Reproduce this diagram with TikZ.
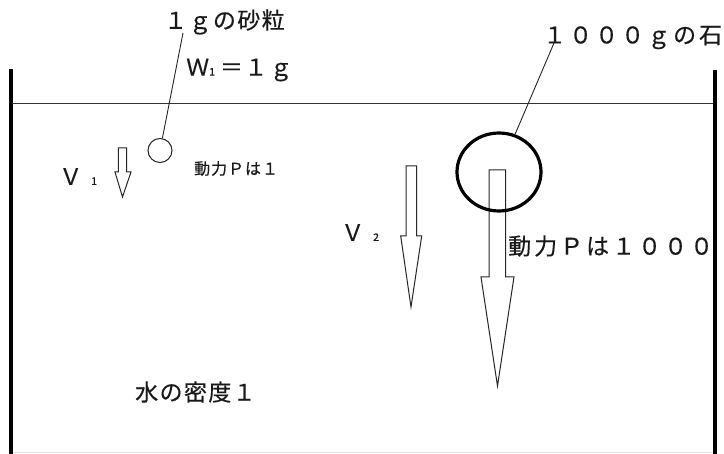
\documentclass[tikz,border=0pt]{standalone}
\usepackage{fontspec}
\usetikzlibrary{shapes.geometric}
\newfontfamily\jp[LetterSpace=6,FakeBold=0.3]{Noto Sans CJK JP}
\newfontfamily\jpwide[LetterSpace=13,FakeBold=0.3]{Noto Sans CJK JP}
\newfontfamily\jpn[FakeBold=0.6]{Noto Sans CJK JP}
\newcommand\subnum[1]{{\jpn\fontsize{10.5}{10.5}\selectfont #1}}
\begin{document}
\begin{tikzpicture}[x=1pt,y=-1pt,
  wall/.style={line width=4pt,black},
  surface/.style={line width=1.2pt,black!80},
  leader/.style={line width=0.9pt,black!85},
  blockarrow/.style={line width=1pt,black!85,fill=white,line join=miter},
  lab/.style={inner sep=0pt,anchor=west,text=black!90,font=\jp\fontsize{23}{23}\selectfont},
  widelab/.style={inner sep=0pt,anchor=west,text=black!90,font=\jpwide\fontsize{23}{23}\selectfont},
  smalllab/.style={inner sep=0pt,anchor=west,text=black!90,font=\jp\fontsize{16}{16}\selectfont}]
\useasboundingbox (0,0) rectangle (724,454);
\fill[white] (0,0) rectangle (724,454);
% walls and water
\draw[black!12,line width=1pt] (12,452.5) -- (714,452.5);
\draw[wall] (10.5,69) -- (10.5,454);
\draw[wall] (715,70) -- (715,454);
\draw[surface] (12,103.5) -- (713,103.5);
% arrows
\draw[blockarrow] (118.3,148) -- (126.7,148) -- (126.7,172) -- (131,172) -- (122.5,197) -- (115,172) -- (118.3,172) -- cycle;
\draw[blockarrow] (406,166) -- (416.7,166) -- (416.7,236) -- (421.7,236) -- (411,307) -- (400.7,236) -- (406,236) -- cycle;
\draw[blockarrow] (489,170) -- (505.7,170) -- (505.7,277) -- (514,277) -- (497.5,386) -- (481,277) -- (489,277) -- cycle;
% particles
\node[draw,circle,line width=1pt,black!85,minimum size=24pt,inner sep=0pt] (sand) at (160,150.5) {};
\node[draw,ellipse,line width=3.2pt,black,minimum width=84pt,minimum height=78pt,inner sep=0pt] (stone) at (499,172) {};
\coordinate (sandlead) at (183,33);
\coordinate (stonelead) at (554,43);
\draw[leader] (sandlead) -- (sand);
\draw[leader] (stonelead) -- (stone);
% labels
\node[lab] (sandlabel) at (164,22) {１ｇの砂粒};
\node[lab] (w1) at (186,70) {Ｗ\subnum{1}\hspace{5pt}＝１\hspace{2pt}ｇ};
\node[lab] (v1) at (59,176.5) {Ｖ\hspace{9pt}\subnum{1}};
\node[smalllab] (p1) at (194,168.5) {動力Ｐは１};
\node[widelab] (stonelabel) at (543,37.5) {１０００ｇの石};
\node[lab] (v2) at (341,232.5) {Ｖ\hspace{9pt}\subnum{2}};
\node[widelab] (p2) at (508,246) {動力Ｐは１０００};
\node[lab] (density) at (135,392) {水の密度１};
\end{tikzpicture}
\end{document}
